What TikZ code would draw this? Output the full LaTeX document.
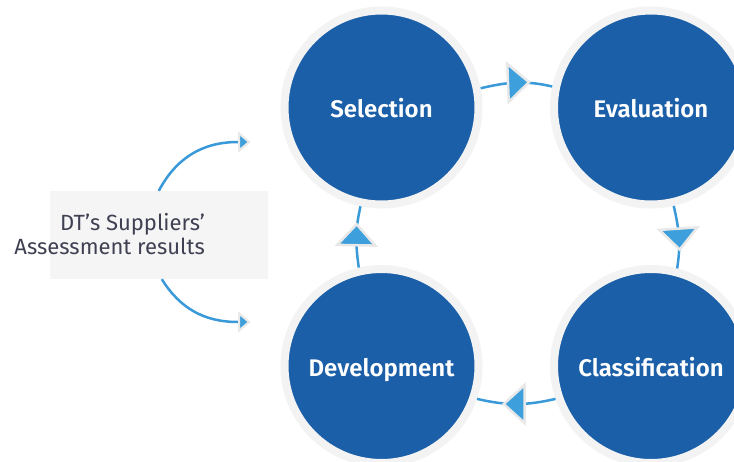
\documentclass[tikz,border=0pt]{standalone}
\usepackage{fontspec}
\setmainfont{Fira Sans}
\newfontfamily\semib{Fira Sans SemiBold}
\usetikzlibrary{shapes.geometric,calc}
\definecolor{cblue}{HTML}{1A5FA8}
\definecolor{ringgray}{HTML}{F3F3F3}
\definecolor{lineblue}{HTML}{3A9AD9}
\definecolor{triblue}{HTML}{3D9FDB}
\definecolor{triedge}{HTML}{E8E8E8}
\definecolor{boxgray}{HTML}{F5F5F5}
\definecolor{txtgray}{HTML}{3F4052}
\begin{document}
\begin{tikzpicture}[x=1pt,y=1pt,
  stage/.style={circle, fill=cblue, draw=ringgray, line width=8pt, minimum size=194pt, inner sep=0pt, text=white, text height=20.5pt, text depth=0pt, font=\fontsize{24}{27}\selectfont\semib},
  conn/.style={draw=lineblue, line width=2.5pt},
  tri/.style={isosceles triangle, isosceles triangle stretches, minimum width=38pt, minimum height=21pt, inner sep=0pt, fill=triblue, draw=triedge, line width=2.5pt, sloped, allow upside down},
  smalltri/.style={isosceles triangle, isosceles triangle stretches, minimum width=17pt, minimum height=10pt, inner sep=0pt, fill=triblue, draw=triedge, line width=2pt, sloped, allow upside down},
  boxstyle/.style={rectangle, fill=boxgray, minimum width=218pt, minimum height=88pt, inner sep=0pt},
  lbl/.style={text=txtgray, font=\fontsize{22}{24}\selectfont, align=right, inner sep=0pt}
]
\useasboundingbox (0,0) rectangle (734,-461);
\fill[white] (0,0) rectangle (734,-461);

\node[stage] (sel) at (381.5,-107.5) {Selection};
\node[stage] (eva) at (651,-107.5) {Evaluation};
\node[stage] (cla) at (651,-366) {Classification};
\node[stage] (dev) at (381.5,-366) {Development};

\draw[conn] (sel.11) to[out=13,in=167] node[tri]{} (eva.168);
\draw[conn] (eva.283) to[out=-77,in=81] node[tri]{} (cla.75);
\draw[conn] (cla.199) to[out=193,in=-13] node[tri]{} (dev.-19);
\draw[conn] (dev.103) to[out=98,in=257] node[tri]{} (sel.258);

\node[boxstyle] (dt) at (159,-235) {};
\node[lbl, anchor=east] (dttext) at (205,-234) {DT’s Suppliers’\\Assessment results};

\coordinate (ua) at (238,-142);
\coordinate (la) at (238,-322);
\draw[conn] ($(dt.north west)+(109,0)$) to[out=62,in=180] node[smalltri,pos=1,anchor=west]{} (ua);
\draw[conn] ($(dt.south west)+(112,0)$) to[out=-58,in=180] node[smalltri,pos=1,anchor=west]{} (la);
\end{tikzpicture}
\end{document}
